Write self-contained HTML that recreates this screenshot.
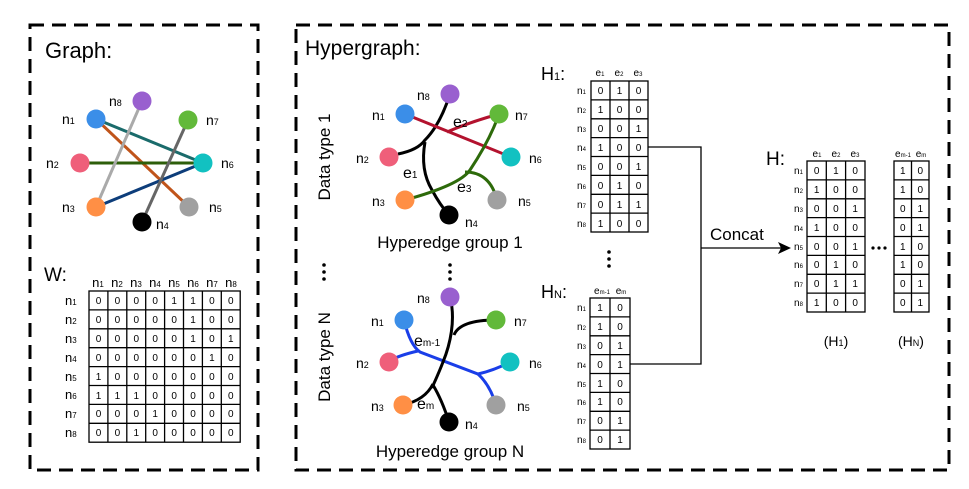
<!DOCTYPE html>
<html><head><meta charset="utf-8"><style>
html,body{margin:0;padding:0;background:#fff;}
svg{display:block;font-family:"Liberation Sans",Arial,sans-serif;}
</style></head><body>
<svg width="969" height="489" viewBox="0 0 969 489" xmlns="http://www.w3.org/2000/svg">
<g fill="none" stroke="#000" stroke-width="3" stroke-dasharray="14 8">
<rect x="30" y="25" width="228" height="445"/>
<rect x="296" y="25" width="653" height="445"/>
</g>
<text x="45" y="58" font-size="22">Graph:</text>
<text x="305" y="55" font-size="21">Hypergraph:</text>

<!-- Graph -->
<g stroke-width="3" fill="none">
<line x1="96" y1="119" x2="203" y2="163" stroke="#1a6b6b"/>
<line x1="96" y1="119" x2="189" y2="207" stroke="#c0541a"/>
<line x1="80" y1="163" x2="203" y2="163" stroke="#2d5e0a"/>
<line x1="96" y1="207" x2="203" y2="163" stroke="#0d3d7a"/>
<line x1="96" y1="207" x2="142" y2="101" stroke="#aaaaaa"/>
<line x1="142" y1="222" x2="188" y2="120" stroke="#666"/>
</g>
<g>
<circle cx="142" cy="101" r="9.5" fill="#9960cf"/><circle cx="96" cy="119" r="9.5" fill="#3b8ee8"/>
<circle cx="188" cy="120" r="9.5" fill="#62b93a"/><circle cx="80" cy="163" r="9.5" fill="#ef5f7a"/>
<circle cx="203" cy="163" r="9.5" fill="#12c1c1"/><circle cx="96" cy="207" r="9.5" fill="#ff8f45"/>
<circle cx="189" cy="207" r="9.5" fill="#a0a0a0"/><circle cx="142" cy="222" r="9.5" fill="#000"/>
</g>
<g font-size="14">
<text x="109" y="106">n<tspan font-size="9">8</tspan></text>
<text x="62" y="124">n<tspan font-size="9">1</tspan></text>
<text x="206" y="125">n<tspan font-size="9">7</tspan></text>
<text x="46" y="168">n<tspan font-size="9">2</tspan></text>
<text x="221" y="168">n<tspan font-size="9">6</tspan></text>
<text x="62" y="212">n<tspan font-size="9">3</tspan></text>
<text x="209" y="212">n<tspan font-size="9">5</tspan></text>
<text x="156" y="229">n<tspan font-size="9">4</tspan></text>
</g>

<!-- W matrix -->
<text x="44" y="281" font-size="19">W:</text>
<g font-size="13" text-anchor="middle">
<text x="98" y="287">n<tspan font-size="8">1</tspan></text><text x="117" y="287">n<tspan font-size="8">2</tspan></text>
<text x="136" y="287">n<tspan font-size="8">3</tspan></text><text x="155" y="287">n<tspan font-size="8">4</tspan></text>
<text x="174" y="287">n<tspan font-size="8">5</tspan></text><text x="193" y="287">n<tspan font-size="8">6</tspan></text>
<text x="212" y="287">n<tspan font-size="8">7</tspan></text><text x="231" y="287">n<tspan font-size="8">8</tspan></text>
</g>
<g font-size="13">
<text x="65" y="305">n<tspan font-size="8">1</tspan></text><text x="65" y="324">n<tspan font-size="8">2</tspan></text>
<text x="65" y="343">n<tspan font-size="8">3</tspan></text><text x="65" y="362">n<tspan font-size="8">4</tspan></text>
<text x="65" y="381">n<tspan font-size="8">5</tspan></text><text x="65" y="399">n<tspan font-size="8">6</tspan></text>
<text x="65" y="418">n<tspan font-size="8">7</tspan></text><text x="65" y="437">n<tspan font-size="8">8</tspan></text>
</g>
<g stroke="#000" stroke-width="1.3" fill="none">
<rect x="89" y="291" width="151.2" height="151.2"/>
<path d="M107.9 291V442M126.8 291V442M145.7 291V442M164.6 291V442M183.5 291V442M202.4 291V442M221.3 291V442M89 309.9H240M89 328.8H240M89 347.7H240M89 366.6H240M89 385.5H240M89 404.4H240M89 423.3H240"/>
</g>
<g font-size="10" text-anchor="middle">
<text x="98.5 117.4 136.3 155.2 174.1 193 211.9 230.8" y="304">00001100</text>
<text x="98.5 117.4 136.3 155.2 174.1 193 211.9 230.8" y="323">00000100</text>
<text x="98.5 117.4 136.3 155.2 174.1 193 211.9 230.8" y="342">00000101</text>
<text x="98.5 117.4 136.3 155.2 174.1 193 211.9 230.8" y="361">00000010</text>
<text x="98.5 117.4 136.3 155.2 174.1 193 211.9 230.8" y="380">10000000</text>
<text x="98.5 117.4 136.3 155.2 174.1 193 211.9 230.8" y="399">11100000</text>
<text x="98.5 117.4 136.3 155.2 174.1 193 211.9 230.8" y="417">00010000</text>
<text x="98.5 117.4 136.3 155.2 174.1 193 211.9 230.8" y="436">00100000</text>
</g>

<!-- Data type labels -->
<text transform="translate(330,157) rotate(-90)" font-size="17" text-anchor="middle">Data type 1</text>
<text transform="translate(330,357) rotate(-90)" font-size="17" text-anchor="middle">Data type N</text>
<g fill="#000">
<circle cx="324" cy="265" r="1.8"/><circle cx="324" cy="272" r="1.8"/><circle cx="324" cy="279" r="1.8"/>
<circle cx="450" cy="265" r="1.8"/><circle cx="450" cy="272" r="1.8"/><circle cx="450" cy="279" r="1.8"/>
<circle cx="609" cy="252" r="1.8"/><circle cx="609" cy="259" r="1.8"/><circle cx="609" cy="266" r="1.8"/>
</g>

<!-- Group 1 -->
<g fill="none" stroke-width="3">
<path d="M450 94 Q440 125 425 140 Q418 150 398 154" stroke="#000"/>
<path d="M425 142 Q420 170 432 190 Q440 205 449 215" stroke="#000"/>
<path d="M405 114 L511 157" stroke="#b3122e"/>
<path d="M447 132 Q470 122 499 114" stroke="#b3122e"/>
<path d="M405 200 Q460 185 470 170 Q490 140 499 114" stroke="#2d6a0a"/>
<path d="M465 172 Q490 172 497 200" stroke="#2d6a0a"/>
</g>
<circle cx="450" cy="94" r="9.5" fill="#9960cf"/><circle cx="405" cy="114" r="9.5" fill="#3b8ee8"/>
<circle cx="499" cy="114" r="9.5" fill="#62b93a"/><circle cx="389" cy="157" r="9.5" fill="#ef5f7a"/>
<circle cx="511" cy="157" r="9.5" fill="#12c1c1"/><circle cx="405" cy="200" r="9.5" fill="#ff8f45"/>
<circle cx="497" cy="200" r="9.5" fill="#a0a0a0"/><circle cx="449" cy="215" r="9.5" fill="#000"/>
<g font-size="14">
<text x="417" y="100">n<tspan font-size="9">8</tspan></text>
<text x="372" y="120">n<tspan font-size="9">1</tspan></text>
<text x="515" y="120">n<tspan font-size="9">7</tspan></text>
<text x="356" y="163">n<tspan font-size="9">2</tspan></text>
<text x="529" y="163">n<tspan font-size="9">6</tspan></text>
<text x="372" y="206">n<tspan font-size="9">3</tspan></text>
<text x="518" y="206">n<tspan font-size="9">5</tspan></text>
<text x="465" y="227">n<tspan font-size="9">4</tspan></text>
<text x="453" y="127" font-size="16">e<tspan font-size="10">2</tspan></text>
<text x="403" y="178" font-size="16">e<tspan font-size="10">1</tspan></text>
<text x="457" y="192" font-size="16">e<tspan font-size="10">3</tspan></text>
</g>
<text x="450" y="248" font-size="17" text-anchor="middle">Hyperedge group 1</text>

<!-- Group N -->
<g fill="none" stroke-width="3">
<path d="M404 320 Q410 345 420 352 L478 374 Q495 370 510 362" stroke="#1a3ee8"/>
<path d="M478 374 Q490 385 496 405" stroke="#1a3ee8"/>
<path d="M418 351 Q400 355 389 361" stroke="#1a3ee8"/>
<path d="M450 297 C456 320 450 345 443 362 C438 375 434 383 432 388" stroke="#000"/>
<path d="M454 335 Q460 320 496 320" stroke="#000"/>
<path d="M433 384 Q425 400 403 405" stroke="#000"/>
<path d="M433 385 Q442 400 449 422" stroke="#000"/>
</g>
<circle cx="450" cy="297" r="9.5" fill="#9960cf"/><circle cx="404" cy="320" r="9.5" fill="#3b8ee8"/>
<circle cx="496" cy="320" r="9.5" fill="#62b93a"/><circle cx="389" cy="362" r="9.5" fill="#ef5f7a"/>
<circle cx="510" cy="362" r="9.5" fill="#12c1c1"/><circle cx="403" cy="405" r="9.5" fill="#ff8f45"/>
<circle cx="496" cy="405" r="9.5" fill="#a0a0a0"/><circle cx="449" cy="422" r="9.5" fill="#000"/>
<g font-size="14">
<text x="417" y="303">n<tspan font-size="9">8</tspan></text>
<text x="371" y="326">n<tspan font-size="9">1</tspan></text>
<text x="514" y="326">n<tspan font-size="9">7</tspan></text>
<text x="356" y="368">n<tspan font-size="9">2</tspan></text>
<text x="529" y="368">n<tspan font-size="9">6</tspan></text>
<text x="371" y="411">n<tspan font-size="9">3</tspan></text>
<text x="517" y="411">n<tspan font-size="9">5</tspan></text>
<text x="465" y="429">n<tspan font-size="9">4</tspan></text>
<text x="414" y="346" font-size="16">e<tspan font-size="10">m-1</tspan></text>
<text x="417" y="409" font-size="16">e<tspan font-size="10">m</tspan></text>
</g>
<text x="450" y="457" font-size="17" text-anchor="middle">Hyperedge group N</text>

<!-- H1 -->
<text x="541" y="80" font-size="18">H<tspan font-size="11">1</tspan>:</text>
<g font-size="10" text-anchor="middle">
<text x="600" y="76">e<tspan font-size="6">1</tspan></text><text x="619" y="76">e<tspan font-size="6">2</tspan></text><text x="638" y="76">e<tspan font-size="6">3</tspan></text>
</g>
<g font-size="10">
<text x="577" y="94">n<tspan font-size="6">1</tspan></text><text x="577" y="113">n<tspan font-size="6">2</tspan></text>
<text x="577" y="132">n<tspan font-size="6">3</tspan></text><text x="577" y="151">n<tspan font-size="6">4</tspan></text>
<text x="577" y="170">n<tspan font-size="6">5</tspan></text><text x="577" y="189">n<tspan font-size="6">6</tspan></text>
<text x="577" y="208">n<tspan font-size="6">7</tspan></text><text x="577" y="227">n<tspan font-size="6">8</tspan></text>
</g>
<g stroke="#000" stroke-width="1.3" fill="none">
<rect x="591" y="81" width="57" height="151"/>
<path d="M610 81V232M629 81V232M591 99.9H648M591 118.8H648M591 137.6H648M591 156.5H648M591 175.4H648M591 194.3H648M591 213.1H648"/>
</g>
<g font-size="10" text-anchor="middle">
<text x="600.5 619.5 638.5" y="94">010</text><text x="600.5 619.5 638.5" y="113">100</text>
<text x="600.5 619.5 638.5" y="132">001</text><text x="600.5 619.5 638.5" y="151">100</text>
<text x="600.5 619.5 638.5" y="170">001</text><text x="600.5 619.5 638.5" y="189">010</text>
<text x="600.5 619.5 638.5" y="208">011</text><text x="600.5 619.5 638.5" y="227">100</text>
</g>

<!-- HN -->
<text x="541" y="298" font-size="18">H<tspan font-size="11">N</tspan>:</text>
<g font-size="10" text-anchor="middle">
<text x="602" y="294">e<tspan font-size="6">m-1</tspan></text><text x="621" y="294">e<tspan font-size="6">m</tspan></text>
</g>
<g font-size="10">
<text x="577" y="311">n<tspan font-size="6">1</tspan></text><text x="577" y="330">n<tspan font-size="6">2</tspan></text>
<text x="577" y="349">n<tspan font-size="6">3</tspan></text><text x="577" y="368">n<tspan font-size="6">4</tspan></text>
<text x="577" y="387">n<tspan font-size="6">5</tspan></text><text x="577" y="405">n<tspan font-size="6">6</tspan></text>
<text x="577" y="424">n<tspan font-size="6">7</tspan></text><text x="577" y="443">n<tspan font-size="6">8</tspan></text>
</g>
<g stroke="#000" stroke-width="1.3" fill="none">
<rect x="590" y="298" width="40" height="151"/>
<path d="M610 298V449M590 316.9H630M590 335.8H630M590 354.6H630M590 373.5H630M590 392.4H630M590 411.3H630M590 430.1H630"/>
</g>
<g font-size="10" text-anchor="middle">
<text x="600 620" y="311">10</text><text x="600 620" y="330">10</text>
<text x="600 620" y="349">01</text><text x="600 620" y="368">01</text>
<text x="600 620" y="387">10</text><text x="600 620" y="405">10</text>
<text x="600 620" y="424">01</text><text x="600 620" y="443">01</text>
</g>

<!-- connectors -->
<g stroke="#000" stroke-width="1.3" fill="none">
<path d="M648 147H701V364H630"/>
<path d="M701 248H782"/>
</g>
<path d="M791 248 L778 242 L781 248 L778 254 Z" fill="#000"/>
<text x="710" y="240" font-size="17">Concat</text>

<!-- H -->
<text x="766" y="165" font-size="19">H:</text>
<g font-size="10" text-anchor="middle">
<text x="817" y="157">e<tspan font-size="6">1</tspan></text><text x="836" y="157">e<tspan font-size="6">2</tspan></text><text x="855" y="157">e<tspan font-size="6">3</tspan></text>
<text x="903" y="157">e<tspan font-size="6">m-1</tspan></text><text x="921" y="157">e<tspan font-size="6">m</tspan></text>
</g>
<g font-size="10">
<text x="794" y="174">n<tspan font-size="6">1</tspan></text><text x="794" y="193">n<tspan font-size="6">2</tspan></text>
<text x="794" y="212">n<tspan font-size="6">3</tspan></text><text x="794" y="231">n<tspan font-size="6">4</tspan></text>
<text x="794" y="250">n<tspan font-size="6">5</tspan></text><text x="794" y="268">n<tspan font-size="6">6</tspan></text>
<text x="794" y="287">n<tspan font-size="6">7</tspan></text><text x="794" y="306">n<tspan font-size="6">8</tspan></text>
</g>
<g stroke="#000" stroke-width="1.3" fill="none">
<rect x="807" y="161" width="58" height="151"/>
<path d="M826.3 161V312M845.6 161V312M807 179.9H865M807 198.8H865M807 217.6H865M807 236.5H865M807 255.4H865M807 274.3H865M807 293.1H865"/>
<rect x="894" y="161" width="35" height="151"/>
<path d="M911.5 161V312M894 179.9H929M894 198.8H929M894 217.6H929M894 236.5H929M894 255.4H929M894 274.3H929M894 293.1H929"/>
</g>
<g font-size="10" text-anchor="middle">
<text x="816.6 835.9 855.2 902.8 920.3" y="174">01010</text>
<text x="816.6 835.9 855.2 902.8 920.3" y="193">10010</text>
<text x="816.6 835.9 855.2 902.8 920.3" y="212">00101</text>
<text x="816.6 835.9 855.2 902.8 920.3" y="231">10001</text>
<text x="816.6 835.9 855.2 902.8 920.3" y="250">00110</text>
<text x="816.6 835.9 855.2 902.8 920.3" y="268">01010</text>
<text x="816.6 835.9 855.2 902.8 920.3" y="287">01101</text>
<text x="816.6 835.9 855.2 902.8 920.3" y="306">10001</text>
</g>
<g fill="#000"><circle cx="873" cy="248" r="1.6"/><circle cx="879" cy="248" r="1.6"/><circle cx="885" cy="248" r="1.6"/></g>
<text x="836" y="346" font-size="14" text-anchor="middle">(H<tspan font-size="9">1</tspan>)</text>
<text x="911" y="346" font-size="14" text-anchor="middle">(H<tspan font-size="9">N</tspan>)</text>
</svg>
</body></html>
